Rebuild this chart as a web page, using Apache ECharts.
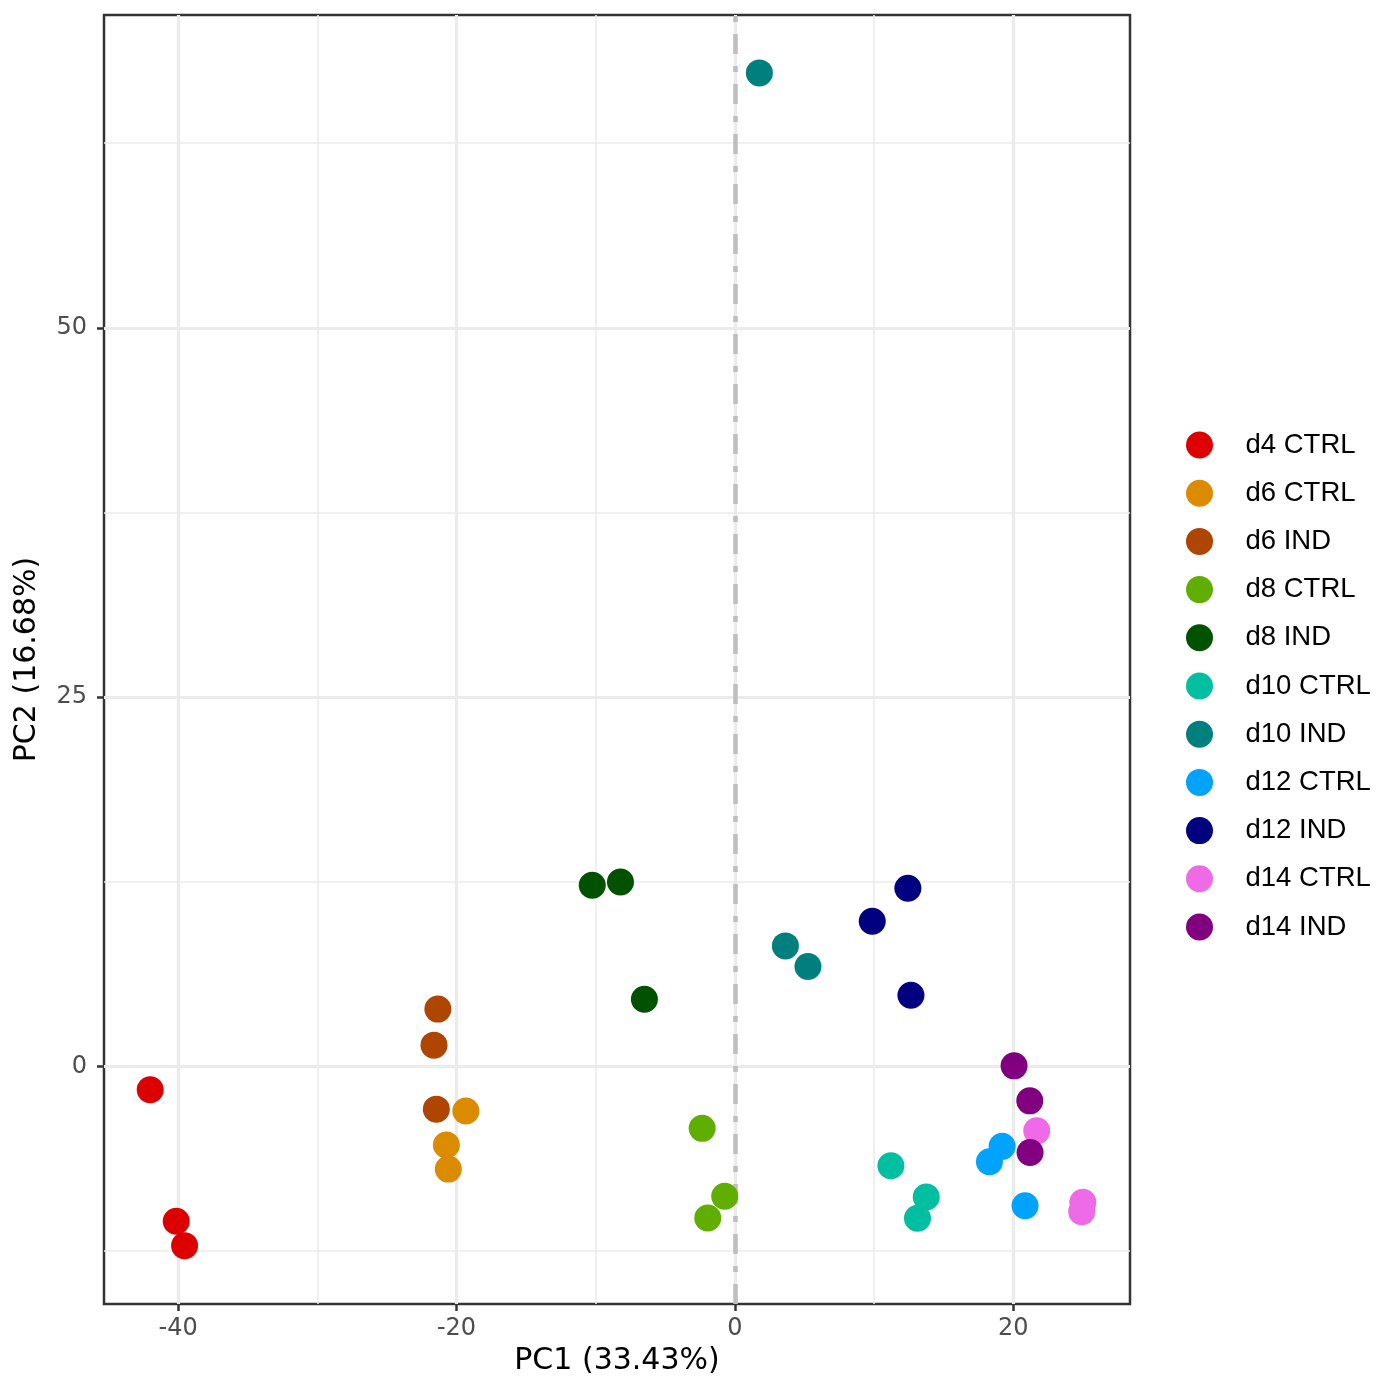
<!DOCTYPE html>
<html>
<head>
<meta charset="utf-8">
<script src="https://cdn.jsdelivr.net/npm/echarts@6/dist/echarts.min.js"></script>
<style>
  html, body { margin: 0; padding: 0; background: #fff; }
  #main { width: 1400px; height: 1400px; }
</style>
</head>
<body>
<div id="main"></div>
<script>
// PCA 散点图
var groups = ['d4 CTRL', 'd6 CTRL', 'd6 IND', 'd8 CTRL', 'd8 IND', 'd10 CTRL',
              'd10 IND', 'd12 CTRL', 'd12 IND', 'd14 CTRL', 'd14 IND'];
var colors = ['#DD0000', '#DA8B00', '#AE4500', '#60AE00', '#005200', '#00BFA0',
              '#007F7F', '#00A3FF', '#000080', '#EE6AE6', '#800080'];

// 每组三个样本的 PC1 / PC2
var pc1 = [
    [-42.01, -40.14, -39.54],
    [-19.33, -20.73, -20.59],
    [-21.34, -21.62, -21.45],
    [-2.35, -0.73, -1.95],
    [-10.25, -8.22, -6.50],
    [11.21, 13.75, 13.12],
    [1.76, 3.63, 5.25],
    [19.20, 18.29, 20.85],
    [12.43, 9.87, 12.65],
    [21.69, 25.00, 24.92],
    [20.06, 21.19, 21.21]
];
var pc2 = [
    [-1.58, -10.48, -12.13],
    [-3.02, -5.32, -6.95],
    [3.88, 1.44, -2.89],
    [-4.19, -8.79, -10.26],
    [12.26, 12.48, 4.55],
    [-6.72, -8.84, -10.28],
    [67.25, 8.16, 6.76],
    [-5.41, -6.45, -9.43],
    [12.06, 9.83, 4.82],
    [-4.36, -9.20, -9.83],
    [0.04, -2.33, -5.82]
];

var xTicks = [-40, -20, 0, 20];
var xMinor = [-30, -10, 10];
var yTicks = [0, 25, 50];
var yMinor = [-12.5, 12.5, 37.5, 62.5];

var chart = echarts.init(document.getElementById('main'));

function gridLines(vals, key, width) {
    return vals.map(function (v) {
        var o = { lineStyle: { color: '#ebebeb', width: width, type: 'solid' } };
        o[key] = v;
        return o;
    });
}

var series = [];
// 网格线（放在最底层）
series.push({
    type: 'scatter',
    data: [],
    z: 0,
    silent: true,
    markLine: {
        z: 0,
        silent: true,
        symbol: 'none',
        animation: false,
        label: { show: false },
        emphasis: { disabled: true },
        data: [].concat(
            gridLines(xMinor, 'xAxis', 1.6),
            gridLines(yMinor, 'yAxis', 1.6),
            gridLines(xTicks, 'xAxis', 3.2),
            gridLines(yTicks, 'yAxis', 3.2)
        )
    }
});
// x = 0 虚线
series.push({
    type: 'scatter',
    data: [],
    z: 1,
    silent: true,
    markLine: {
        z: 1,
        silent: true,
        symbol: 'none',
        animation: false,
        label: { show: false },
        emphasis: { disabled: true },
        data: [{ xAxis: 0, lineStyle: { color: '#bebebe', width: 4.5, type: [20, 12, 6, 12] } }]
    }
});

for (var i = 0; i < groups.length; i++) {
    var pts = [];
    for (var j = 0; j < pc1[i].length; j++) {
        pts.push([pc1[i][j], pc2[i][j]]);
    }
    series.push({
        name: groups[i],
        type: 'scatter',
        z: 3,
        symbol: 'circle',
        symbolSize: 27,
        itemStyle: { color: colors[i], opacity: 1 },
        data: pts
    });
}

var option = {
    backgroundColor: '#fff',
    animation: false,
    grid: {
        left: 104, right: 270, top: 15, bottom: 96,
        show: true,
        borderColor: '#333333',
        borderWidth: 2.5,
        backgroundColor: 'transparent'
    },
    legend: {
        orient: 'vertical',
        left: 1181,
        top: 426,
        itemWidth: 82,
        itemHeight: 27,
        itemGap: 20.2,
        icon: 'circle',
        data: groups,
        textStyle: { fontFamily: 'Liberation Sans', fontSize: 27.5, color: '#000' }
    },
    xAxis: {
        type: 'value',
        min: -45.33,
        max: 28.39,
        name: 'PC1 (33.43%)',
        nameLocation: 'middle',
        nameGap: 42,
        nameTextStyle: { fontFamily: 'DejaVu Sans', fontSize: 30, color: '#000' },
        axisLine: { show: false, onZero: false },
        axisTick: { show: true, length: 7, customValues: xTicks, lineStyle: { color: '#333', width: 2.5 } },
        axisLabel: { customValues: xTicks, margin: 13, fontFamily: 'DejaVu Sans', fontSize: 24, color: '#4d4d4d' },
        splitLine: { show: false }
    },
    yAxis: {
        type: 'value',
        min: -16.08,
        max: 71.17,
        name: 'PC2 (16.68%)',
        nameLocation: 'middle',
        nameGap: 62,
        nameTextStyle: { fontFamily: 'DejaVu Sans', fontSize: 30, color: '#000' },
        axisLine: { show: false, onZero: false },
        axisTick: { show: true, length: 7, customValues: yTicks, lineStyle: { color: '#333', width: 2.5 } },
        axisLabel: { customValues: yTicks, margin: 17, fontFamily: 'DejaVu Sans', fontSize: 24, color: '#4d4d4d' },
        splitLine: { show: false }
    },
    series: series
};

chart.setOption(option);
</script>
</body>
</html>
